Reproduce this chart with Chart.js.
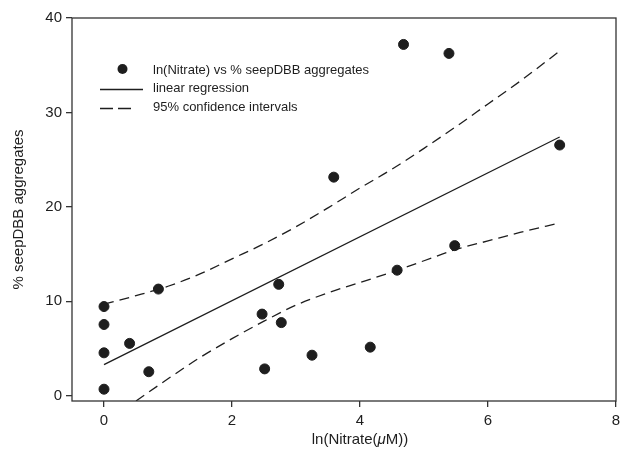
<!DOCTYPE html>
<html>
<head>
<meta charset="utf-8">
<script src="https://cdn.jsdelivr.net/npm/chart.js@4.4.1/dist/chart.umd.min.js"></script>
<style>
  html, body { margin: 0; padding: 0; background: #fff; }
  #wrap { width: 622px; height: 453px; }
</style>
</head>
<body>
<div id="wrap"><canvas id="nitrateChart" width="622" height="453"></canvas></div>
<script>
// ===============================
// 1. DATA
// ===============================
const lnNitrate = [0, 0, 0, 0, 0.40, 0.70, 0.85, 2.47, 2.51, 2.73, 2.77, 3.25, 3.59, 4.16, 4.58, 4.68, 5.39, 5.48, 7.12];
const seepPct   = [9.45, 7.55, 4.55, 0.7, 5.55, 2.55, 11.3, 8.65, 2.85, 11.8, 7.75, 4.3, 23.15, 5.15, 13.3, 37.2, 36.25, 15.9, 26.55];

const fitX = [0, 7.12];
const fitY = [3.3, 27.4];

const upperX = [0, 0.5, 1, 1.5, 2, 2.5, 3, 3.5, 4, 4.5, 5, 5.5, 6, 6.5, 7.12];
const upperY = [9.7, 10.6, 11.6, 12.9, 14.5, 16.1, 17.9, 19.9, 22.0, 24.0, 26.2, 28.5, 30.9, 33.3, 36.5];

const lowerX = [0.5, 1, 1.5, 2, 2.5, 3, 3.5, 4, 4.5, 5, 5.5, 6, 6.5, 7.12];
const lowerY = [-0.55, 1.8, 4.05, 6.05, 7.9, 9.6, 10.9, 12.0, 13.1, 14.3, 15.5, 16.4, 17.3, 18.3];

const xTicks = [0, 2, 4, 6, 8];
const yTicks = [0, 10, 20, 30, 40];

const seriesLabels = [
    "ln(Nitrate) vs % seepDBB aggregates",
    "linear regression",
    "95% confidence intervals"
];

// ===============================
// 2. HELPERS
// ===============================
const INK = "#1e1e1e";
const FONT = "'Liberation Sans', Arial, Helvetica, sans-serif";
const DASH = [10, 6];

function toPoints(xs, ys) {
    return xs.map((x, i) => ({ x: x, y: ys[i] }));
}

// box round the plot + inside legend + axis titles
const framePlugin = {
    id: "frame",
    afterDatasetsDraw(chart) {
        const { ctx, chartArea } = chart;
        ctx.save();
        ctx.strokeStyle = "#333";
        ctx.lineWidth = 1.3;
        ctx.strokeRect(chartArea.left, chartArea.top, chartArea.right - chartArea.left, chartArea.bottom - chartArea.top);
        ctx.restore();
    },
    afterDraw(chart) {
        const { ctx, chartArea } = chart;
        const sets = chart.data.datasets;

        // legend
        ctx.save();
        ctx.fillStyle = INK;
        ctx.strokeStyle = INK;
        ctx.font = "13px " + FONT;
        ctx.textBaseline = "middle";
        const textX = 153;
        const rows = [70, 88.5, 107.5];

        ctx.beginPath();
        ctx.arc(122.5, rows[0] - 1, 5, 0, Math.PI * 2);
        ctx.fill();

        ctx.lineWidth = 1.3;
        ctx.beginPath();
        ctx.moveTo(100, rows[1] + 1);
        ctx.lineTo(143, rows[1] + 1);
        ctx.stroke();

        ctx.setLineDash([13, 5]);
        ctx.beginPath();
        ctx.moveTo(100, rows[2] + 1);
        ctx.lineTo(135, rows[2] + 1);
        ctx.stroke();
        ctx.setLineDash([]);

        for (let i = 0; i < 3; i++) {
            ctx.fillText(sets[i].label, textX, rows[i]);
        }

        // x title, with italic mu
        ctx.font = "15px " + FONT;
        const partA = "ln(Nitrate(";
        const partC = "M))";
        const wA = ctx.measureText(partA).width;
        const wC = ctx.measureText(partC).width;
        ctx.font = "italic 15px " + FONT;
        const wB = ctx.measureText("\u03bc").width;
        const cx = chart.scales.x.getPixelForValue(4);
        let x0 = cx - (wA + wB + wC) / 2;
        const ty = 440;
        ctx.textAlign = "left";
        ctx.font = "15px " + FONT;
        ctx.fillText(partA, x0, ty);
        ctx.font = "italic 15px " + FONT;
        ctx.fillText("\u03bc", x0 + wA, ty);
        ctx.font = "15px " + FONT;
        ctx.fillText(partC, x0 + wA + wB, ty);

        // y title
        ctx.translate(19, (chartArea.top + chartArea.bottom) / 2);
        ctx.rotate(-Math.PI / 2);
        ctx.textAlign = "center";
        ctx.fillText("% seepDBB aggregates", 0, 0);
        ctx.restore();
    }
};

// ===============================
// 3. CHART
// ===============================
const ctx = document.getElementById("nitrateChart");

new Chart(ctx, {
    type: "scatter",
    data: {
        datasets: [
            {
                label: seriesLabels[0],
                data: toPoints(lnNitrate, seepPct),
                backgroundColor: INK,
                borderColor: INK,
                pointRadius: 5,
                pointHoverRadius: 5,
                showLine: false,
                order: 0
            },
            {
                label: seriesLabels[1],
                data: toPoints(fitX, fitY),
                borderColor: INK,
                borderWidth: 1.3,
                pointRadius: 0,
                showLine: true,
                order: 1
            },
            {
                label: seriesLabels[2],
                data: toPoints(upperX, upperY),
                borderColor: INK,
                borderWidth: 1.3,
                borderDash: DASH,
                pointRadius: 0,
                showLine: true,
                cubicInterpolationMode: "monotone",
                order: 1
            },
            {
                label: seriesLabels[2],
                data: toPoints(lowerX, lowerY),
                borderColor: INK,
                borderWidth: 1.3,
                borderDash: DASH,
                pointRadius: 0,
                showLine: true,
                cubicInterpolationMode: "monotone",
                order: 1
            }
        ]
    },
    options: {
        responsive: false,
        animation: false,
        layout: { padding: { top: 18, right: 3, left: 0, bottom: 0 } },
        plugins: {
            legend: { display: false },
            tooltip: { enabled: false }
        },
        scales: {
            x: {
                type: "linear",
                min: -0.5,
                max: 8,
                afterBuildTicks: (scale) => { scale.ticks = xTicks.map(v => ({ value: v })); },
                afterFit: (scale) => {
                    scale.height = 52;
                    scale.paddingLeft = 0;
                    scale.paddingRight = 0;
                },
                border: { display: false },
                grid: { drawOnChartArea: false, drawTicks: true, tickLength: 6, color: "#333", lineWidth: 1.3 },
                ticks: { color: INK, font: { family: FONT, size: 15 }, padding: 5, maxRotation: 0 }
            },
            y: {
                type: "linear",
                min: -0.55,
                max: 40,
                afterBuildTicks: (scale) => { scale.ticks = yTicks.map(v => ({ value: v })); },
                afterFit: (scale) => {
                    scale.width = 72;
                    scale.paddingTop = 0;
                    scale.paddingBottom = 0;
                },
                border: { display: false },
                grid: { drawOnChartArea: false, drawTicks: true, tickLength: 6, color: "#333", lineWidth: 1.3 },
                ticks: { color: INK, font: { family: FONT, size: 15 }, padding: 4 }
            }
        }
    },
    plugins: [framePlugin]
});
</script>
</body>
</html>
